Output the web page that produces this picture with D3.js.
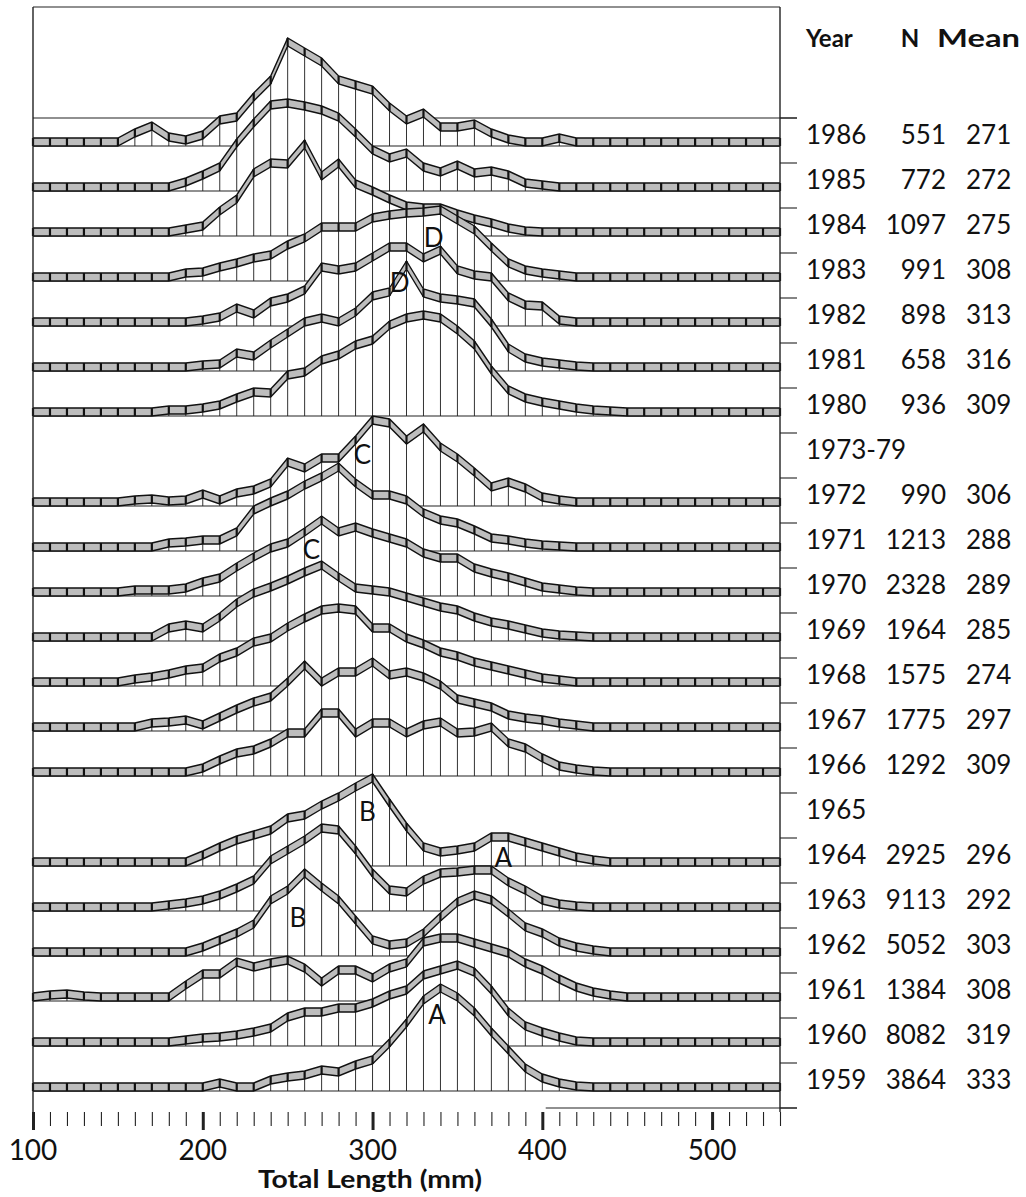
<!DOCTYPE html>
<html><head><meta charset="utf-8">
<script src="https://cdn.jsdelivr.net/npm/d3@7"></script>
<style>
body{margin:0;background:#fff}
svg{display:block}
text{font-family:Lato,"Open Sans","DejaVu Sans",sans-serif;fill:#111}
</style>
</head><body>
<svg id="chart" width="1026" height="1197"></svg>
<script>
// ---------- DATA ----------
// length classes (mm), 10 mm bins
const lengthBins = [100,110,120,130,140,150,160,170,180,190,200,210,220,230,240,250,260,270,280,290,300,310,320,330,340,350,360,370,380,390,400,410,420,430,440,450,460,470,480,490,500,510,520,530,540];
const xTicksMajor = [100,200,300,400,500];
const yearLabels = ["1986","1985","1984","1983","1982","1981","1980","1973-79","1972","1971","1970","1969","1968","1967","1966","1965","1964","1963","1962","1961","1960","1959"];
const nLabels    = ["551","772","1097","991","898","658","936","","990","1213","2328","1964","1575","1775","1292","","2925","9113","5052","1384","8082","3864"];
const meanLabels = ["271","272","275","308","313","316","309","","306","288","289","285","274","297","309","","296","292","303","308","319","333"];

// relative frequency by length class (one array per year)
const freq1986 = [0,0,0,0,0,0,9,16,5,2,7,22,25,45,62,100,90,80,62,57,52,35,22,29,15,15,18,9,3,0,0,4,0,0,0,0,0,0,0,0,0,0,0,0,0];
const freq1985 = [0,0,0,0,0,0,0,0,0,5,12,20,44,64,82,84,81,77,70,54,37,29,34,20,15,22,14,16,12,4,2,0,0,0,0,0,0,0,0,0,0,0,0,0,0];
const freq1984 = [0,0,0,0,0,0,0,0,0,3,6,21,33,59,69,68,88,56,69,48,41,33,26,24,24,18,13,9,4,1,0,0,0,0,0,0,0,0,0,0,0,0,0,0,0];
const freq1983 = [0,0,0,0,0,0,0,0,0,4,5,10,14,19,22,32,39,50,50,50,59,62,64,65,67,57,47,30,14,7,4,2,0,0,0,0,0,0,0,0,0,0,0,0,0];
const freq1982 = [0,0,0,0,0,0,0,0,0,0,2,5,14,8,20,24,32,55,52,55,65,75,75,64,72,52,47,45,25,17,16,2,0,0,0,0,0,0,0,0,0,0,0,0,0];
const freq1981 = [0,0,0,0,0,0,0,0,0,0,2,3,14,11,23,34,45,49,45,55,71,75,102,74,69,67,64,44,19,9,5,3,1,0,0,0,0,0,0,0,0,0,0,0,0];
const freq1980 = [0,0,0,0,0,0,0,0,2,2,4,7,14,20,19,37,40,52,57,67,72,87,94,97,94,82,67,42,22,14,10,7,4,2,1,0,0,0,0,0,0,0,0,0,0];
const freq1972 = [0,0,0,0,0,0,2,3,1,2,8,2,9,12,19,40,34,44,44,62,82,79,62,74,55,44,30,15,20,14,5,2,0,0,0,0,0,0,0,0,0,0,0,0,0];
const freq1971 = [0,0,0,0,0,0,0,0,4,5,7,7,15,37,45,52,62,70,80,64,52,52,47,34,27,24,17,9,7,4,2,1,0,0,0,0,0,0,0,0,0,0,0,0,0];
const freq1970 = [0,0,0,0,0,0,2,2,2,4,10,14,25,35,44,49,60,72,60,65,59,54,49,39,34,34,24,19,15,10,5,3,1,0,0,0,0,0,0,0,0,0,0,0,0];
const freq1969 = [0,0,0,0,0,0,0,0,9,12,9,20,34,44,50,57,65,72,60,49,47,45,40,35,30,27,20,15,12,8,4,2,1,0,0,0,0,0,0,0,0,0,0,0,0];
const freq1968 = [0,0,0,0,0,0,3,5,8,12,14,24,30,40,44,55,64,72,74,72,54,54,44,38,30,26,20,16,12,8,4,2,0,0,0,0,0,0,0,0,0,0,0,0,0];
const freq1967 = [0,0,0,0,0,0,0,4,5,7,2,10,18,25,30,45,62,45,55,55,65,52,55,50,42,28,24,20,12,9,7,4,2,0,0,0,0,0,0,0,0,0,0,0,0];
const freq1966 = [0,0,0,0,0,0,0,0,0,0,4,12,19,22,29,39,39,59,59,39,49,49,39,47,50,39,40,45,29,24,14,6,3,1,0,0,0,0,0,0,0,0,0,0,0];
const freq1964 = [0,0,0,0,0,0,0,0,0,0,7,15,22,27,32,44,47,57,65,75,84,59,35,15,10,12,15,25,25,20,15,10,5,2,0,0,0,0,0,0,0,0,0,0,0];
const freq1963 = [0,0,0,0,0,0,0,0,2,4,7,12,19,27,47,57,67,79,77,57,34,17,15,27,34,35,37,37,25,17,7,3,1,0,0,0,0,0,0,0,0,0,0,0,0];
const freq1962 = [0,0,0,0,0,0,0,0,0,0,5,12,19,28,52,62,79,65,52,32,12,7,9,19,35,50,57,52,39,25,19,10,5,2,0,0,0,0,0,0,0,0,0,0,0];
const freq1961 = [0,2,3,1,0,0,0,0,0,12,23,23,35,30,34,37,29,15,27,27,19,29,34,55,59,59,54,49,44,34,27,18,10,5,2,0,0,0,0,0,0,0,0,0,0];
const freq1960 = [0,0,0,0,0,0,0,0,0,2,4,5,7,10,14,25,30,30,34,34,39,47,52,67,72,77,70,52,30,16,10,5,1,0,0,0,0,0,0,0,0,0,0,0,0];
const freq1959 = [0,0,0,0,0,0,0,0,0,0,0,4,0,0,7,10,12,17,15,22,27,44,64,87,99,90,75,55,37,19,9,4,1,0,0,0,0,0,0,0,0,0,0,0,0];

const rowSeries = [freq1986,freq1985,freq1984,freq1983,freq1982,freq1981,freq1980,null,freq1972,freq1971,freq1970,freq1969,freq1968,freq1967,freq1966,null,freq1964,freq1963,freq1962,freq1961,freq1960,freq1959];

// peak annotations: letter, length (mm), year row, height above row baseline (frequency units)
const annoLetters = ["D","D","C","C","B","A","B","A"];
const annoLength  = [336,316,294,264,297,377,256,338];
const annoRow     = ["1983","1981","1972","1970","1964","1963","1962","1959"];
const annoHeight  = [43,88,51,46,54,53,38,76];

// ---------- LAYOUT ----------
const svg = d3.select("#chart");
const x = d3.scaleLinear().domain([100,540]).range([33,780]);
const rowBand = d3.scaleBand().domain(yearLabels).range([118,1108]).paddingInner(0).paddingOuter(0);
const h = d3.scaleLinear().domain([0,100]).range([0,100]);
const BASE_OFF = 28, RIB = 8;
const baseY = lab => rowBand(lab) + BASE_OFF;
const plotL = x(100), plotR = x(540);

const g = svg.append("g");

// top separator line (drawn under the ridges)
g.append("line").attr("x1",plotL).attr("x2",plotR+17).attr("y1",rowBand.range()[0]).attr("y2",rowBand.range()[0])
  .attr("stroke","#222").attr("stroke-width",1.1);

yearLabels.forEach((lab,i)=>{
  const s = rowSeries[i];
  if(!s) return;
  const b = baseY(lab);
  const pts = s.map((v,k)=>({x:x(lengthBins[k]), yb:b - h(v), yt:b - h(v) - RIB, v:v}));
  const rg = g.append("g");
  const area = pts.map(p=>[p.x,p.yt]).concat([[plotR,b],[plotL,b]]);
  rg.append("path").attr("d", d3.line()(area)+"Z").attr("fill","#fff").attr("stroke","none");
  rg.selectAll("line.drop").data(pts.filter(p=>p.v>0)).join("line")
    .attr("x1",p=>p.x).attr("x2",p=>p.x).attr("y1",p=>p.yb).attr("y2",b)
    .attr("stroke","#333").attr("stroke-width",1);
  rg.append("line").attr("x1",plotL).attr("x2",plotR).attr("y1",b).attr("y2",b)
    .attr("stroke","#222").attr("stroke-width",1.2);
  const top = pts.map(p=>[p.x,p.yt]);
  const bot = pts.map(p=>[p.x,p.yb]);
  rg.append("path").attr("d", d3.line()(top.concat(bot.slice().reverse()))+"Z")
    .attr("fill","#bdbdbd").attr("stroke","none");
  rg.append("path").attr("d", d3.line()(top)).attr("fill","none").attr("stroke","#111").attr("stroke-width",1.4);
  rg.append("path").attr("d", d3.line()(bot)).attr("fill","none").attr("stroke","#111").attr("stroke-width",1.4);
  rg.selectAll("line.sep").data(pts).join("line")
    .attr("x1",p=>p.x).attr("x2",p=>p.x).attr("y1",p=>p.yt).attr("y2",p=>p.yb)
    .attr("stroke","#111").attr("stroke-width",2.2);
});

// frame
g.append("line").attr("x1",plotL).attr("x2",plotR).attr("y1",7).attr("y2",7).attr("stroke","#222").attr("stroke-width",1.2);
g.append("line").attr("x1",plotL).attr("x2",plotL).attr("y1",7).attr("y2",1112).attr("stroke","#222").attr("stroke-width",1.4);
g.append("line").attr("x1",plotR).attr("x2",plotR).attr("y1",7).attr("y2",1112).attr("stroke","#222").attr("stroke-width",1.4);

// right-side row ticks
const tickYs = yearLabels.map(l=>rowBand(l)).concat([rowBand.range()[1]]);
g.selectAll("line.rt").data(tickYs).join("line")
  .attr("x1",plotR).attr("x2",plotR+17).attr("y1",d=>d).attr("y2",d=>d)
  .attr("stroke","#222").attr("stroke-width",1.1);
// lower closing line (right part)
g.append("line").attr("x1",x(402)).attr("x2",plotR+17).attr("y1",rowBand.range()[1]).attr("y2",rowBand.range()[1])
  .attr("stroke","#222").attr("stroke-width",1.1);

// x axis
const axisY = 1112;
const xAxis = d3.axisBottom(x).tickValues(lengthBins).tickSize(14).tickFormat("");
const ax = g.append("g").attr("transform",`translate(0,${axisY})`).call(xAxis);
ax.select(".domain").remove();
ax.selectAll(".tick line").attr("stroke","#222").attr("stroke-width",1.1);
ax.selectAll(".tick").filter(d=>xTicksMajor.includes(d)).select("line").attr("stroke-width",3).attr("y2",18);
g.selectAll("text.xl").data(xTicksMajor).join("text")
  .attr("x",d=>x(d)).attr("y",1160).attr("text-anchor","middle").attr("font-size",28).text(d=>d);
g.append("text").attr("x",258).attr("y",1188).attr("font-size",25)
  .attr("font-weight","bold").attr("textLength",224).attr("lengthAdjust","spacingAndGlyphs").text("Total Length (mm)");

// header
g.append("text").attr("x",806).attr("y",47).attr("font-size",24).attr("font-weight","bold").text("Year");
g.append("text").attr("x",910).attr("y",47).attr("font-size",24).attr("font-weight","bold").attr("text-anchor","middle").text("N");
g.append("text").attr("x",937).attr("y",47).attr("font-size",24).attr("font-weight","bold")
  .attr("textLength",83).attr("lengthAdjust","spacingAndGlyphs").text("Mean");

// row labels
yearLabels.forEach((lab,i)=>{
  const yb = baseY(lab) - 2;
  g.append("text").attr("x",806).attr("y",yb).attr("font-size",26).text(lab);
  if(nLabels[i]) g.append("text").attr("x",946).attr("y",yb).attr("font-size",26).attr("text-anchor","end").text(nLabels[i]);
  if(meanLabels[i]) g.append("text").attr("x",966).attr("y",yb).attr("font-size",26).text(meanLabels[i]);
});

// peak annotations
annoLetters.forEach((t,i)=>{
  g.append("text").attr("x",x(annoLength[i])).attr("y",baseY(annoRow[i]) - h(annoHeight[i]))
    .attr("dy","0.36em").attr("text-anchor","middle").attr("font-size",26).text(t);
});
</script>
</body></html>
